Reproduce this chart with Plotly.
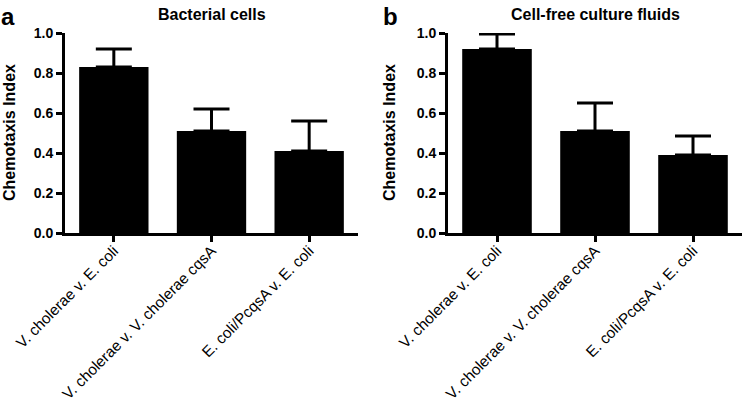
import plotly.graph_objects as go

categories = ["V. cholerae v. E. coli", "V. cholerae v. V. cholerae cqsA", "E. coli/PcqsA v. E. coli"]
cells_mean = [0.83, 0.51, 0.41]
cells_err = [0.09, 0.11, 0.15]
fluids_mean = [0.92, 0.51, 0.39]
fluids_err = [0.075, 0.14, 0.095]
y_ticks = [0.0, 0.2, 0.4, 0.6, 0.8, 1.0]

W, H = 745, 405
FONT = "Liberation Sans, Arial, sans-serif"

fig = go.Figure()
for mean, err, xa, ya in [(cells_mean, cells_err, "x", "y"), (fluids_mean, fluids_err, "x2", "y2")]:
    fig.add_trace(go.Bar(
        x=categories, y=mean, xaxis=xa, yaxis=ya,
        marker=dict(color="black", line=dict(width=0)),
        error_y=dict(type="data", symmetric=False, array=err, arrayminus=[0]*len(err),
                     color="black", thickness=3, width=18),
        showlegend=False,
    ))

def px_x(p):
    return p / W

def px_y(p):
    return 1 - p / H

ydom = [px_y(233), px_y(33)]
axis_common = dict(showline=True, linecolor="black", linewidth=3, ticks="outside",
                   ticklen=6, tickwidth=3, tickcolor="black", showgrid=False, zeroline=False,
                   automargin=False)
xfont = dict(family=FONT, size=15.3, color="black")
yfont = dict(family=FONT, size=14, color="black", weight="bold")

fig.update_layout(
    width=W, height=H, margin=dict(l=0, r=0, t=0, b=0),
    paper_bgcolor="white", plot_bgcolor="white", bargap=0.29,
    xaxis=dict(domain=[px_x(65), px_x(358)], range=[-0.5, 2.5], tickangle=-45,
               tickfont=xfont, anchor="y", ticklabelstandoff=-6, **axis_common),
    yaxis=dict(domain=ydom, range=[0, 1], tickvals=y_ticks, tickformat=".1f",
               tickfont=yfont, anchor="x", **axis_common),
    xaxis2=dict(domain=[px_x(448), px_x(742)], range=[-0.5, 2.5], tickangle=-45,
                tickfont=xfont, anchor="y2", ticklabelstandoff=-6, **axis_common),
    yaxis2=dict(domain=ydom, range=[0, 1], tickvals=y_ticks, tickformat=".1f",
                tickfont=yfont, anchor="x2", **axis_common),
)

ann = [
    dict(text="a", x=px_x(-1), y=px_y(1), size=24, anchor="left", yanchor="top"),
    dict(text="b", x=px_x(381), y=px_y(1), size=24, anchor="left", yanchor="top"),
    dict(text="Bacterial cells", x=px_x(212), y=px_y(15), size=16, anchor="center", yanchor="middle"),
    dict(text="Cell-free culture fluids", x=px_x(595), y=px_y(15), size=16, anchor="center", yanchor="middle"),
]
for a in ann:
    fig.add_annotation(text=a["text"], x=a["x"], y=a["y"], xref="paper", yref="paper",
                       xanchor=a["anchor"], yanchor=a["yanchor"], showarrow=False,
                       font=dict(family=FONT, size=a["size"], color="black", weight="bold"))
for xc in [9, 389]:
    fig.add_annotation(text="Chemotaxis Index", x=px_x(xc), y=px_y(133), xref="paper", yref="paper",
                       xanchor="center", yanchor="middle", showarrow=False, textangle=-90,
                       font=dict(family=FONT, size=16, color="black", weight="bold"))

fig.write_html("out.html", config={"displayModeBar": False},
               post_script="document.body.style.margin='0';document.body.style.padding='0';")
